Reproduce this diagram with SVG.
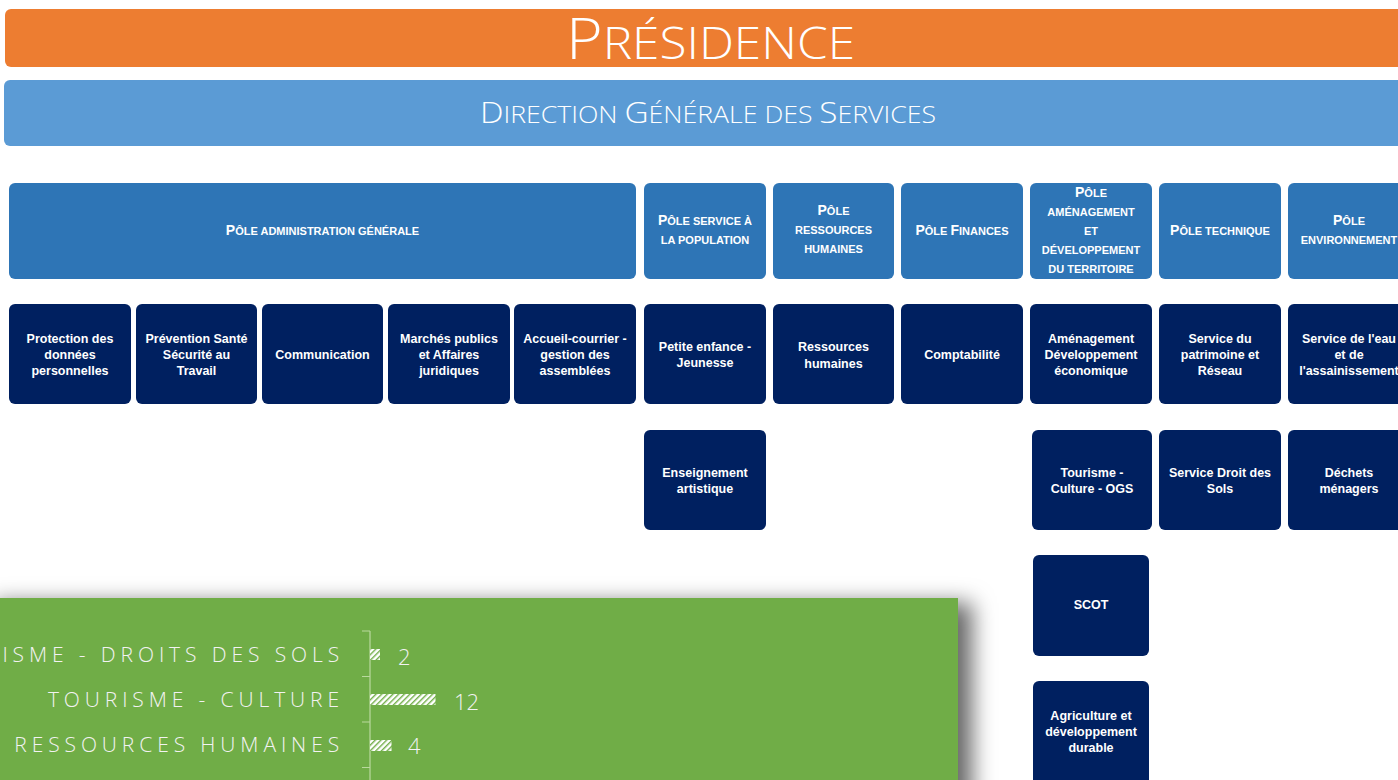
<svg xmlns="http://www.w3.org/2000/svg" width="1398" height="780" viewBox="0 0 1398 780">
<style>
.pole{fill:#2E75B6}
.svc{fill:#002060}
.pt{fill:#fff;font-family:"Liberation Sans",Arial,sans-serif;font-weight:bold;font-size:11px;text-anchor:middle}
.pt .b{font-size:14px}
.st{fill:#fff;font-family:"Liberation Sans",Arial,sans-serif;font-weight:bold;font-size:12.5px;text-anchor:middle}
.ct{fill:#F2F2F2;font-family:"Open Sans","Liberation Sans",sans-serif;font-weight:300;font-size:21px;letter-spacing:4.9px;text-anchor:end}
.cv{fill:#F2F2F2;font-family:"Open Sans","Liberation Sans",sans-serif;font-weight:300;font-size:22px}
.hd{fill:#fff;font-family:"Open Sans","Liberation Sans",sans-serif;font-weight:300}
.ax{stroke:#B9D99E;stroke-width:1.2;fill:none}
</style>
<defs>
<pattern id="hatch" width="4" height="4" patternUnits="userSpaceOnUse" patternTransform="rotate(45)">
<rect width="4" height="4" fill="#fff"/>
<rect width="1.4" height="4" fill="#70AD47"/>
</pattern>
<filter id="shadow" x="-10%" y="-30%" width="130%" height="160%">
<feDropShadow dx="14" dy="5" stdDeviation="11" flood-color="#000" flood-opacity="0.6"/>
</filter>
</defs>
<rect width="1398" height="780" fill="#fff"/>

<g id="presidence">
<rect x="5" y="9" width="1410" height="58" rx="6" fill="#ED7D31"/>
<text class="hd" x="566" y="59" textLength="289" lengthAdjust="spacingAndGlyphs"><tspan font-size="57">P</tspan><tspan font-size="45">RÉSIDENCE</tspan></text>
</g>
<g id="dgs">
<rect x="4" y="80" width="1410" height="66" rx="6" fill="#5B9BD5"/>
<text class="hd" x="480" y="123" textLength="456" lengthAdjust="spacingAndGlyphs"><tspan font-size="30">D</tspan><tspan font-size="24">IRECTION </tspan><tspan font-size="30">G</tspan><tspan font-size="24">ÉNÉRALE DES </tspan><tspan font-size="30">S</tspan><tspan font-size="24">ERVICES</tspan></text>
</g>

<g id="pole-admin"><rect class="pole" x="9" y="183" width="627" height="96" rx="6"/>
<text class="pt" x="322.5" y="235"><tspan class="b">P</tspan>ÔLE ADMINISTRATION GÉNÉRALE</text></g>
<g id="pole-population"><rect class="pole" x="644" y="183" width="122" height="96" rx="6"/>
<text class="pt" x="705" y="225"><tspan class="b">P</tspan>ÔLE SERVICE À</text><text class="pt" x="705" y="244">LA POPULATION</text></g>
<g id="pole-rh"><rect class="pole" x="773" y="183" width="121" height="96" rx="6"/>
<text class="pt" x="833.5" y="215"><tspan class="b">P</tspan>ÔLE</text><text class="pt" x="833.5" y="234">RESSOURCES</text><text class="pt" x="833.5" y="253">HUMAINES</text></g>
<g id="pole-finances"><rect class="pole" x="901" y="183" width="122" height="96" rx="6"/>
<text class="pt" x="962" y="235"><tspan class="b">P</tspan>ÔLE <tspan class="b">F</tspan>INANCES</text></g>
<g id="pole-amenagement"><rect class="pole" x="1030" y="183" width="122" height="96" rx="6"/>
<text class="pt" x="1091" y="197"><tspan class="b">P</tspan>ÔLE</text><text class="pt" x="1091" y="216">AMÉNAGEMENT</text><text class="pt" x="1091" y="235">ET</text><text class="pt" x="1091" y="254">DÉVELOPPEMENT</text><text class="pt" x="1091" y="273">DU TERRITOIRE</text></g>
<g id="pole-technique"><rect class="pole" x="1159" y="183" width="122" height="96" rx="6"/>
<text class="pt" x="1220" y="235"><tspan class="b">P</tspan>ÔLE TECHNIQUE</text></g>
<g id="pole-environnement"><rect class="pole" x="1288" y="183" width="122" height="96" rx="6"/>
<text class="pt" x="1349" y="225"><tspan class="b">P</tspan>ÔLE</text><text class="pt" x="1349" y="244">ENVIRONNEMENT</text></g>

<g id="svc-protection"><rect class="svc" x="9" y="304" width="122" height="100" rx="6"/>
<text class="st" x="70" y="343">Protection des</text><text class="st" x="70" y="359">données</text><text class="st" x="70" y="375">personnelles</text></g>
<g id="svc-prevention"><rect class="svc" x="136" y="304" width="121" height="100" rx="6"/>
<text class="st" x="196.5" y="343">Prévention Santé</text><text class="st" x="196.5" y="359">Sécurité au</text><text class="st" x="196.5" y="375">Travail</text></g>
<g id="svc-communication"><rect class="svc" x="262" y="304" width="121" height="100" rx="6"/>
<text class="st" x="322.5" y="359">Communication</text></g>
<g id="svc-marches"><rect class="svc" x="388" y="304" width="122" height="100" rx="6"/>
<text class="st" x="449" y="343">Marchés publics</text><text class="st" x="449" y="359">et Affaires</text><text class="st" x="449" y="375">juridiques</text></g>
<g id="svc-accueil"><rect class="svc" x="514" y="304" width="122" height="100" rx="6"/>
<text class="st" x="575" y="343">Accueil-courrier -</text><text class="st" x="575" y="359">gestion des</text><text class="st" x="575" y="375">assemblées</text></g>
<g id="svc-petite-enfance"><rect class="svc" x="644" y="304" width="122" height="100" rx="6"/>
<text class="st" x="705" y="351">Petite enfance -</text><text class="st" x="705" y="367">Jeunesse</text></g>
<g id="svc-rh"><rect class="svc" x="773" y="304" width="121" height="100" rx="6"/>
<text class="st" x="833.5" y="351">Ressources</text><text class="st" x="833.5" y="368">humaines</text></g>
<g id="svc-comptabilite"><rect class="svc" x="901" y="304" width="122" height="100" rx="6"/>
<text class="st" x="962" y="359">Comptabilité</text></g>
<g id="svc-amenagement"><rect class="svc" x="1030" y="304" width="122" height="100" rx="6"/>
<text class="st" x="1091" y="343">Aménagement</text><text class="st" x="1091" y="359">Développement</text><text class="st" x="1091" y="375">économique</text></g>
<g id="svc-patrimoine"><rect class="svc" x="1159" y="304" width="122" height="100" rx="6"/>
<text class="st" x="1220" y="343">Service du</text><text class="st" x="1220" y="359">patrimoine et</text><text class="st" x="1220" y="375">Réseau</text></g>
<g id="svc-eau"><rect class="svc" x="1288" y="304" width="122" height="100" rx="6"/>
<text class="st" x="1349" y="343">Service de l'eau</text><text class="st" x="1349" y="359">et de</text><text class="st" x="1349" y="375">l'assainissement</text></g>

<g id="svc-enseignement"><rect class="svc" x="644" y="430" width="122" height="100" rx="6"/>
<text class="st" x="705" y="477">Enseignement</text><text class="st" x="705" y="493">artistique</text></g>
<g id="svc-tourisme"><rect class="svc" x="1032" y="430" width="120" height="100" rx="6"/>
<text class="st" x="1092" y="477">Tourisme -</text><text class="st" x="1092" y="493">Culture - OGS</text></g>
<g id="svc-droit-sols"><rect class="svc" x="1159" y="430" width="122" height="100" rx="6"/>
<text class="st" x="1220" y="477">Service Droit des</text><text class="st" x="1220" y="493">Sols</text></g>
<g id="svc-dechets"><rect class="svc" x="1288" y="430" width="122" height="100" rx="6"/>
<text class="st" x="1349" y="477">Déchets</text><text class="st" x="1349" y="493">ménagers</text></g>
<g id="svc-scot"><rect class="svc" x="1033" y="555" width="116" height="101" rx="6"/>
<text class="st" x="1091" y="609">SCOT</text></g>
<g id="svc-agriculture"><rect class="svc" x="1033" y="681" width="116" height="110" rx="6"/>
<text class="st" x="1091" y="720">Agriculture et</text><text class="st" x="1091" y="736">développement</text><text class="st" x="1091" y="752">durable</text></g>

<g id="connectors"></g>

<g id="chart">
<rect x="-20" y="598" width="978" height="220" fill="#70AD47" filter="url(#shadow)"/>
<path class="ax" d="M370 631V780M362 631H370M362 676.5H370M362 722H370M362 767.5H370"/>
<rect x="370" y="649" width="10" height="11" fill="url(#hatch)"/>
<rect x="370" y="694" width="65.5" height="11" fill="url(#hatch)"/>
<rect x="370" y="740" width="21.5" height="11" fill="url(#hatch)"/>
<text class="ct" x="344" y="662">URBANISME - DROITS DES SOLS</text>
<text class="ct" x="344" y="707">TOURISME - CULTURE</text>
<text class="ct" x="344" y="752">RESSOURCES HUMAINES</text>
<text class="cv" x="398" y="665">2</text>
<text class="cv" x="454" y="710">12</text>
<text class="cv" x="408" y="754">4</text>
</g>
</svg>
